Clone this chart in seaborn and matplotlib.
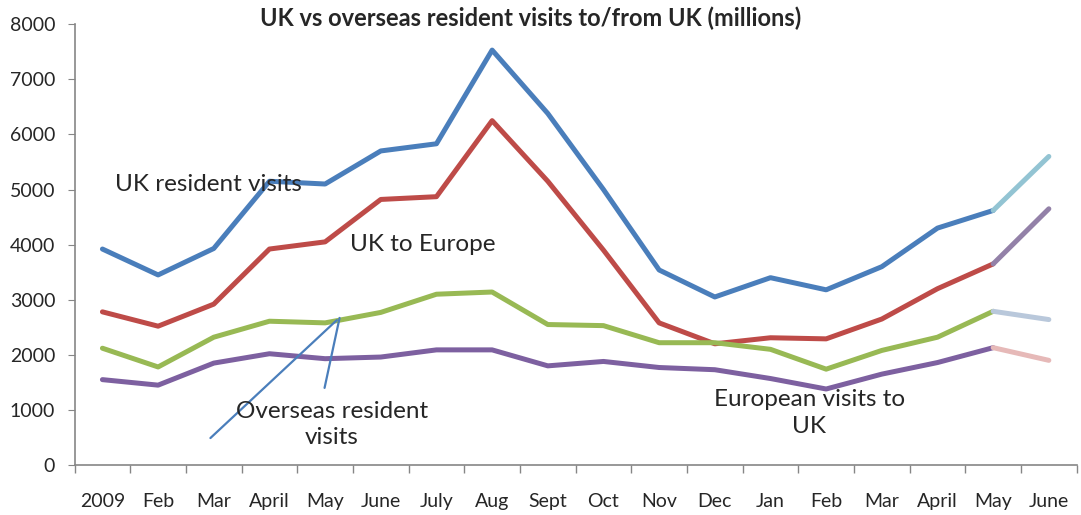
import numpy as np
import pandas as pd
import matplotlib.pyplot as plt
import seaborn as sns

# month labels along the x axis (Jan 2009 .. June 2010)
months = ["2009", "Feb", "Mar", "April", "May", "June", "July", "Aug", "Sept",
          "Oct", "Nov", "Dec", "Jan", "Feb", "Mar", "April", "May", "June"]

# visits, thousands
uk_resident = [3920, 3450, 3930, 5150, 5100, 5700, 5830, 7530, 6380,
               5000, 3540, 3050, 3400, 3180, 3600, 4300, 4620, 5600]
uk_to_europe = [2780, 2520, 2920, 3920, 4050, 4820, 4870, 6250, 5150,
                3900, 2580, 2200, 2310, 2290, 2650, 3200, 3650, 4650]
overseas_resident = [2120, 1780, 2320, 2610, 2580, 2770, 3100, 3140, 2550,
                     2530, 2220, 2220, 2100, 1740, 2080, 2320, 2790, 2640]
european_to_uk = [1550, 1450, 1850, 2020, 1930, 1960, 2090, 2090, 1800,
                  1880, 1770, 1730, 1570, 1380, 1650, 1860, 2130, 1900]

series = {
    "UK resident visits": uk_resident,
    "UK to Europe": uk_to_europe,
    "Overseas resident visits": overseas_resident,
    "European visits to UK": european_to_uk,
}
main_colors = ["#4A7EBB", "#BE4B48", "#98B954", "#7D60A0"]
last_colors = ["#93C4D3", "#9381A8", "#B9C8DB", "#E6B9B8"]

sns.set_style("ticks")
plt.rcParams["font.family"] = ["Lato", "DejaVu Sans"]

fig = plt.figure(figsize=(10.81, 5.15), dpi=100)
ax = fig.add_axes([0.069, 0.097, 0.927, 0.856])

pos = np.arange(len(months))
for (name, vals), c_main, c_last in zip(series.items(), main_colors, last_colors):
    df = pd.DataFrame({"pos": pos, "val": vals})
    sns.lineplot(data=df.iloc[:-1], x="pos", y="val", ax=ax, color=c_main,
                 linewidth=3.6, solid_capstyle="round", solid_joinstyle="round")
    sns.lineplot(data=df.iloc[-2:], x="pos", y="val", ax=ax, color=c_last,
                 linewidth=3.6, solid_capstyle="round", solid_joinstyle="round")

ax.set_xlim(-0.5, len(months) - 0.5)
ax.set_ylim(0, 8000)
ax.set_yticks(range(0, 8001, 1000))
ax.set_xticks(pos)
ax.set_xticklabels(months, fontsize=14)
ax.set_xticks(np.arange(-0.5, len(months), 1), minor=True)
ax.tick_params(axis="x", which="major", length=0, pad=20)
ax.tick_params(axis="x", which="minor", length=6, color="#868686", width=1)
ax.tick_params(axis="y", length=5, color="#868686", labelsize=14, pad=9)
ax.set_xlabel("")
ax.set_ylabel("")
for side in ["top", "right"]:
    ax.spines[side].set_visible(False)
for side in ["left", "bottom"]:
    ax.spines[side].set_color("#868686")
    ax.spines[side].set_linewidth(1.2)

# series labels written on the chart
ax.text(1.9, 5100, "UK resident visits", fontsize=17.5, ha="center", va="center")
ax.text(5.75, 4000, "UK to Europe", fontsize=17.5, ha="center", va="center")
ax.text(4.12, 730, "Overseas resident\nvisits", fontsize=17.5, ha="center",
        va="center", linespacing=1.3)
ax.text(12.7, 945, "European visits to\nUK", fontsize=17.5, ha="center",
        va="center", linespacing=1.3)

# pointer lines to the green series
ax.plot([1.94, 4.21], [490, 2630], color="#4A7EBB", linewidth=1.6)
ax.plot([3.99, 4.26], [1400, 2670], color="#4A7EBB", linewidth=1.6)

fig.text(0.491, 0.965, "UK vs overseas resident visits to/from UK (millions)",
         fontsize=17, fontweight="bold", ha="center", va="center")

fig.savefig("out.png", dpi=100)
